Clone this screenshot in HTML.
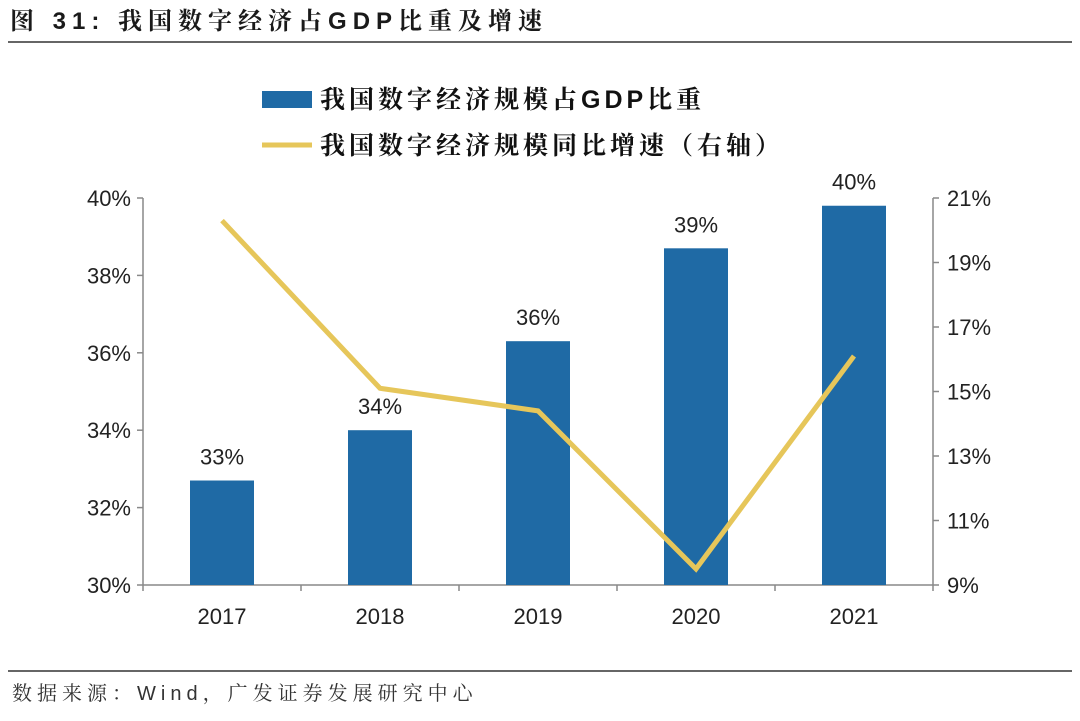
<!DOCTYPE html>
<html><head><meta charset="utf-8">
<style>
body{margin:0;background:#fff;}
svg{display:block;font-family:"Liberation Sans","Noto Sans CJK SC",sans-serif;}
.serif{font-family:"Liberation Sans","Noto Serif CJK SC",serif;}
</style></head>
<body>
<svg id="c" width="1080" height="721" xmlns="http://www.w3.org/2000/svg">
<text class="serif" x="10" y="29" font-size="24" font-weight="bold" letter-spacing="6" fill="#1a1a1a">图 31:  我国数字经济占GDP比重及增速</text>
<line x1="8" y1="42" x2="1072" y2="42" stroke="#333" stroke-width="1.5"/>
<rect x="262" y="91" width="50" height="17" fill="#1f6aa5"/>
<text class="serif" x="320" y="108" font-size="25" font-weight="bold" letter-spacing="4" fill="#111">我国数字经济规模占GDP比重</text>
<line x1="262" y1="145" x2="312" y2="145" stroke="#e6c65a" stroke-width="5"/>
<text class="serif" x="320" y="154" font-size="25" font-weight="bold" letter-spacing="4" fill="#111">我国数字经济规模同比增速（右轴）</text>
<g id="plot"></g>
<line x1="8" y1="671" x2="1072" y2="671" stroke="#333" stroke-width="1.5"/>
<text class="serif" x="12" y="700" font-size="20" letter-spacing="5" fill="#333">数据来源：Wind，广发证券发展研究中心</text>
</svg>
<script>
const categories=["2017","2018","2019","2020","2021"];
const shareValues=[32.7,34.0,36.3,38.7,39.8];
const shareLabels=["33%","34%","36%","39%","40%"];
const growthValues=[20.3,15.1,14.4,9.5,16.1];
const leftTicks=[30,32,34,36,38,40];
const rightTicks=[9,11,13,15,17,19,21];

const NS="http://www.w3.org/2000/svg";
const g=document.getElementById('plot');
const x0=143,x1=933,yTop=198,yBot=585;
const step=(x1-x0)/categories.length;
const xC=i=>x0+step*(i+0.5);
const yL=v=>yBot-(v-30)/(40-30)*(yBot-yTop);
const yR=v=>yBot-(v-9)/(21-9)*(yBot-yTop);
function mk(t,a){const e=document.createElementNS(NS,t);for(const k in a)e.setAttribute(k,a[k]);g.appendChild(e);return e;}

let e;
e=mk('line',{x1:x0,y1:yTop,x2:x0,y2:yBot,stroke:'#888','stroke-width':1.5});


e=mk('line',{x1:x1,y1:yTop,x2:x1,y2:yBot,stroke:'#888','stroke-width':1.5});


e=mk('line',{x1:x0,y1:yBot,x2:x1,y2:yBot,stroke:'#888','stroke-width':1.5});



leftTicks.forEach(v=>{
  const y=yL(v);
  e=mk('line',{x1:x0-6,y1:y,x2:x0,y2:y,stroke:'#888','stroke-width':1.5});
  
  
  e=mk('text',{x:x0-12,y:y+8,'font-size':22,'text-anchor':'end',fill:'#222'});
  e.textContent=v+'%';
  
  
});
rightTicks.forEach(v=>{
  const y=yR(v);
  e=mk('line',{x1:x1,y1:y,x2:x1+6,y2:y,stroke:'#888','stroke-width':1.5});
  
  
  e=mk('text',{x:x1+14,y:y+8,'font-size':22,fill:'#222'});
  e.textContent=v+'%';
  
  
});
for(let i=0;i<=categories.length;i++){
  const x=x0+step*i;
  e=mk('line',{x1:x,y1:yBot,x2:x,y2:yBot+6,stroke:'#888','stroke-width':1.5});
  
  
}
categories.forEach((c,i)=>{
  const y=yL(shareValues[i]);
  e=mk('rect',{x:xC(i)-32,y:y,width:64,height:yBot-y,fill:'#1f6aa5'});
  
  
  e=mk('text',{x:xC(i),y:y-16,'font-size':22,'text-anchor':'middle',fill:'#222'});
  e.textContent=shareLabels[i];
  
  
  e=mk('text',{x:xC(i),y:yBot+39,'font-size':22,'text-anchor':'middle',fill:'#222'});
  e.textContent=c;
  
  
});
const pts=growthValues.map((v,i)=>xC(i)+','+yR(v)).join(' ');
e=mk('polyline',{points:pts,fill:'none',stroke:'#e6c65a','stroke-width':5,'stroke-linejoin':'miter'});


</script>
</body></html>
